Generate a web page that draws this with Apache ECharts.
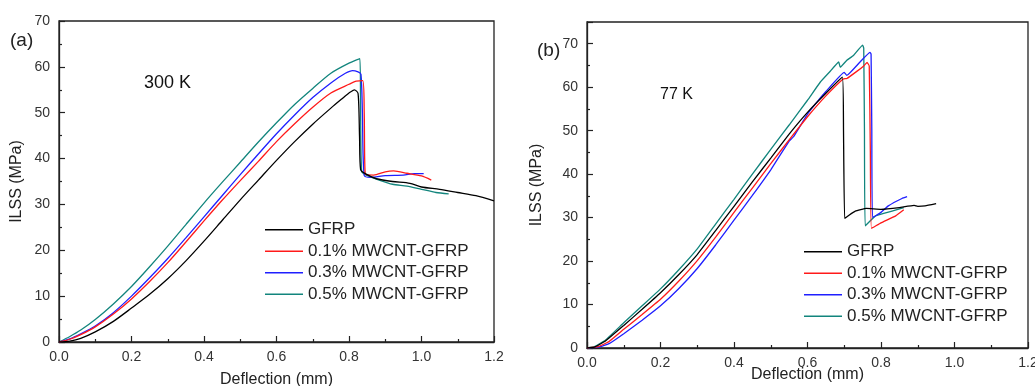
<!DOCTYPE html>
<html>
<head>
<meta charset="utf-8">
<script src="https://cdn.jsdelivr.net/npm/echarts@6/dist/echarts.min.js"></script>
<style>
  html, body { margin: 0; padding: 0; background: #fff; }
  #chart { width: 1035px; height: 386px; }
</style>
</head>
<body>
<div id="chart"></div>
<script>
const seriesNames = ['GFRP', '0.1% MWCNT-GFRP', '0.3% MWCNT-GFRP', '0.5% MWCNT-GFRP'];
const colors = ['#000000', '#ff1a1a', '#1f1fff', '#12857d'];
const xTicks = [0, 0.2, 0.4, 0.6, 0.8, 1.0, 1.2];

// (a) 300 K : [deflection mm, ILSS MPa]
const gfrpA = [[0,0],[0.03,0.2],[0.06,0.8],[0.1,2.2],[0.15,4.5],[0.2,7.4],[0.25,10.4],[0.3,13.8],[0.35,17.7],[0.4,22],[0.45,26.5],[0.5,31],[0.55,35.3],[0.6,39.6],[0.65,43.7],[0.7,47.5],[0.75,51],[0.78,53],[0.8,54.3],[0.815,55],[0.825,54.2],[0.829,45],[0.832,37.6],[0.85,36.5],[0.876,35.6],[0.92,35],[0.968,34.6],[1.0,33.8],[1.05,33.3],[1.1,32.6],[1.15,31.9],[1.2,30.8]];
const cnt01A = [[0,0],[0.03,0.6],[0.06,1.6],[0.1,3.3],[0.15,6.1],[0.2,9.4],[0.25,13.2],[0.3,17.3],[0.35,21.8],[0.4,26.4],[0.45,30.9],[0.5,35.2],[0.55,39.4],[0.6,43.7],[0.65,47.6],[0.7,51.2],[0.75,54.3],[0.8,56.2],[0.82,56.9],[0.838,57],[0.842,50],[0.845,36.6],[0.868,36.4],[0.9,37.1],[0.923,37.3],[0.96,36.8],[1.0,36.2],[1.027,35.3]];
const cnt03A = [[0,0],[0.03,0.7],[0.06,1.8],[0.1,3.5],[0.15,6.4],[0.2,10],[0.25,14],[0.3,18.2],[0.35,22.7],[0.4,27.3],[0.45,31.9],[0.5,36.5],[0.55,41],[0.6,45.4],[0.65,49.5],[0.7,53.3],[0.75,56.5],[0.79,58.6],[0.81,59.2],[0.825,58.9],[0.833,58.4],[0.837,50],[0.842,36.3],[0.86,35.9],[0.9,36.3],[0.95,36.4],[0.98,36.7],[1.006,36.7]];
const cnt05A = [[0,0],[0.03,1.2],[0.06,2.6],[0.1,4.9],[0.15,8.3],[0.2,12.1],[0.25,16.4],[0.3,20.9],[0.35,25.6],[0.4,30.3],[0.45,34.8],[0.5,39.2],[0.55,43.6],[0.6,47.8],[0.65,51.8],[0.7,55.3],[0.75,58.6],[0.8,60.8],[0.83,61.8],[0.832,50],[0.835,37.2],[0.85,36.3],[0.88,35.4],[0.92,34.4],[0.96,34],[1.0,33.3],[1.04,32.6],[1.075,32.3]];

// (b) 77 K
const gfrpB = [[0,0],[0.02,0.2],[0.05,1.6],[0.1,5.2],[0.15,8.9],[0.2,12.7],[0.25,16.9],[0.3,21.5],[0.35,27],[0.4,32.6],[0.45,38.2],[0.5,43.7],[0.55,49.2],[0.6,54.2],[0.65,58.6],[0.695,62.3],[0.698,50],[0.701,29.8],[0.712,30.5],[0.73,31.5],[0.76,32.1],[0.8,31.9],[0.85,32.3],[0.89,32.8],[0.9,32.6],[0.92,32.7],[0.95,33.2]];
const cnt01B = [[0,0],[0.03,0.3],[0.06,1.5],[0.1,4.3],[0.15,7.7],[0.2,11.2],[0.25,15.4],[0.3,20.1],[0.35,25.5],[0.4,31.2],[0.45,36.8],[0.5,42.4],[0.55,47.9],[0.6,53.2],[0.65,58],[0.697,61.9],[0.707,62],[0.735,63.7],[0.753,64.9],[0.762,65.7],[0.768,64.9],[0.771,45],[0.774,27.5],[0.8,28.8],[0.84,30.4],[0.862,31.8]];
const cnt03B = [[0,0],[0.03,0.2],[0.06,1],[0.1,3.3],[0.15,6.4],[0.2,9.7],[0.25,13.7],[0.3,18.3],[0.35,23.7],[0.4,29.4],[0.45,35.1],[0.5,41],[0.55,47.6],[0.556,48.1],[0.562,48.6],[0.6,53.8],[0.625,56.5],[0.65,59],[0.7,63.4],[0.707,62.7],[0.743,65.8],[0.77,68],[0.773,67.6],[0.775,50],[0.777,30],[0.8,31.2],[0.82,32.7],[0.857,34.4],[0.871,34.8]];
const cnt05B = [[0,0],[0.02,0.3],[0.05,1.8],[0.1,5.8],[0.15,9.7],[0.2,13.6],[0.25,18],[0.3,22.8],[0.35,28.5],[0.4,34.2],[0.45,40],[0.5,45.7],[0.55,51.3],[0.6,57],[0.635,61.2],[0.66,63.5],[0.685,65.8],[0.689,64.6],[0.707,66.2],[0.725,67.3],[0.75,69.7],[0.753,69],[0.755,50],[0.757,28.1],[0.785,30.4],[0.83,31.5],[0.862,32.3]];

const panelA = [gfrpA, cnt01A, cnt03A, cnt05A];
const panelB = [gfrpB, cnt01B, cnt03B, cnt05B];

const chart = echarts.init(document.getElementById('chart'));
const FONT = '"Liberation Sans", Arial, sans-serif';
const axisColor = '#222';

function xAxisOf(gridIndex, nameGap) {
  return {
    type: 'value', gridIndex, min: 0, max: 1.2, interval: 0.2,
    name: 'Deflection (mm)', nameLocation: 'middle', nameGap, nameMoveOverlap: false,
    nameTextStyle: { fontFamily: FONT, fontSize: 16, color: '#222' },
    axisLine: { show: true, lineStyle: { color: axisColor, width: 1.3 } },
    axisTick: { show: true, inside: true, length: 6, lineStyle: { color: axisColor, width: 1.2 } },
    minorTick: { show: true, splitNumber: 2, length: 3, lineStyle: { color: axisColor, width: 1.2 } },
    axisLabel: { fontFamily: FONT, fontSize: 14, color: '#333', margin: 8,
      formatter: v => xTicks.includes(+v.toFixed(1)) ? v.toFixed(1) : '' },
    splitLine: { show: false }
  };
}

function yAxisOf(gridIndex, max, nameGap) {
  return {
    type: 'value', gridIndex, min: 0, max, interval: 10,
    name: 'ILSS (MPa)', nameLocation: 'middle', nameGap, nameMoveOverlap: false,
    nameTextStyle: { fontFamily: FONT, fontSize: 16, color: '#222' },
    axisLine: { show: true, lineStyle: { color: axisColor, width: 1.3 } },
    axisTick: { show: true, inside: true, length: 6, lineStyle: { color: axisColor, width: 1.2 } },
    minorTick: { show: true, splitNumber: 2, length: 3, lineStyle: { color: axisColor, width: 1.2 } },
    axisLabel: { fontFamily: FONT, fontSize: 14, color: '#333', margin: 9,
      formatter: v => (v % 10 === 0 ? String(v) : '') },
    splitLine: { show: false }
  };
}

function legendOf(left, top) {
  return {
    data: seriesNames, orient: 'vertical', left, top,
    icon: 'rect', itemWidth: 38, itemHeight: 1.6, itemGap: 2,
    selectedMode: false,
    textStyle: { fontFamily: FONT, fontSize: 17, color: '#222', lineHeight: 19.5 }
  };
}

const series = [];
[panelA, panelB].forEach((panel, p) => {
  panel.forEach((data, i) => {
    series.push({
      type: 'line', name: seriesNames[i], xAxisIndex: p, yAxisIndex: p,
      data, showSymbol: false, symbol: 'none', smooth: p === 0 ? 0.25 : 0.1,
      lineStyle: { color: colors[i], width: 1.3 }, itemStyle: { color: colors[i] },
      z: 10 - i
    });
  });
});

chart.setOption({
  animation: false,
  backgroundColor: '#fff',
  grid: [
    { left: 59, right: 541, top: 21, bottom: 44, show: true, borderColor: axisColor, borderWidth: 1.3,
      containLabel: false, outerBoundsMode: 'none' },
    { left: 587, right: 7, top: 22, bottom: 38, show: true, borderColor: axisColor, borderWidth: 1.3,
      containLabel: false, outerBoundsMode: 'none' }
  ],
  xAxis: [xAxisOf(0, 30), xAxisOf(1, 19)],
  yAxis: [yAxisOf(0, 70, 34), yAxisOf(1, 75, 42)],
  legend: [legendOf(260, 215), legendOf(799, 237)],
  graphic: [
    { type: 'text', left: 10, top: 31, style: { text: '(a)', font: '19px ' + FONT, fill: '#222' } },
    { type: 'text', left: 537, top: 41, style: { text: '(b)', font: '19px ' + FONT, fill: '#222' } },
    { type: 'text', left: 144, top: 74, style: { text: '300 K', font: '18px ' + FONT, fill: '#111' } },
    { type: 'text', left: 660, top: 87, style: { text: '77 K', font: '16px ' + FONT, fill: '#111' } }
  ],
  series
});
</script>
</body>
</html>
